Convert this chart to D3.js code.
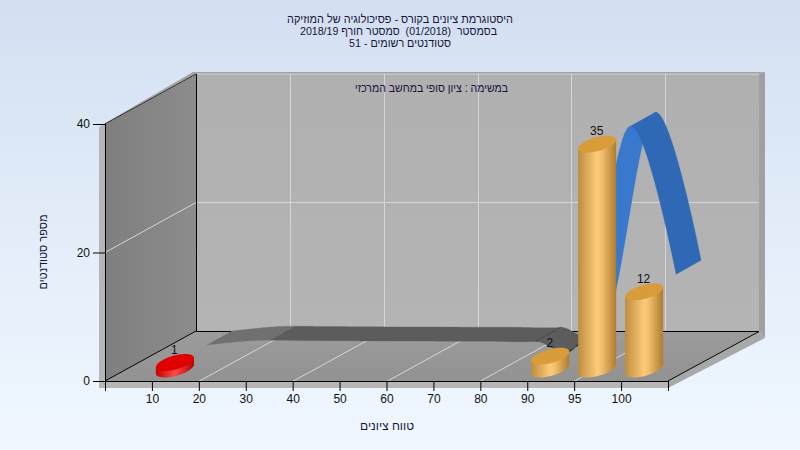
<!DOCTYPE html>
<html lang="he"><head><meta charset="utf-8">
<script src="https://cdnjs.cloudflare.com/ajax/libs/d3/7.8.5/d3.min.js"></script>
<style>html,body{margin:0;padding:0;overflow:hidden}svg{display:block}text{font-family:"Liberation Sans",Arial,sans-serif;white-space:pre}</style>
</head><body><svg id="c" width="800" height="450"></svg>
<script>
const categories = ["10","20","30","40","50","60","70","80","90","95","100"];
const barValues  = [1,0,0,0,0,0,0,0,2,35,12];
const lineValues = [0,0.7,0.7,0.65,0.62,0.6,0.58,0.55,1.5,34,11];
const gridCategories = ["20","40","60","80","95"];
const yTicks = [0,20,40];
const titleLines = ["היסטוגרמת ציונים בקורס - פסיכולוגיה של המוזיקה","בסמסטר  (01/2018)  סמסטר חורף 2018/19","סטודנטים רשומים - 51"];
const subtitle = "במשימה : ציון סופי במחשב המרכזי";
const xTitle = "טווח ציונים";
const yTitle = "מספר סטודנטים";

const svg = d3.select("#c");
const defs = svg.append("defs");
const W=800,H=450;
const L=105,R=668,B=381,T=124,DX=91,DY=-50;
const x = d3.scalePoint().domain(categories).range([L,R]).padding(1);
const y = d3.scaleLinear().domain([0,40]).range([B,T]);
const poly = pts => "M"+pts.map(p=>p.join(",")).join("L")+"Z";
function grad(id,stops,horizontal){
  const g=defs.append("linearGradient").attr("id",id).attr("x1",0).attr("y1",0).attr("x2",horizontal?1:0).attr("y2",horizontal?0:1);
  stops.forEach(s=>g.append("stop").attr("offset",s[0]).attr("stop-color",s[1]));
}
grad("bg",[[0,"#d3dff1"],[0.55,"#e4eefa"],[1,"#f0f7ff"]]);
grad("side",[[0,"#7f7f7f"],[1,"#8c8c8c"]],true);
grad("floor",[[0,"#9c9c9c"],[1,"#929292"]]);
grad("wall",[[0,"#b0b0b0"],[1,"#b4b4b4"]]);
grad("gold",[[0,"#bd8d3f"],[0.5,"#fdcb78"],[0.62,"#f3bf6c"],[1,"#ae7c30"]],true);
grad("red",[[0,"#c40000"],[0.5,"#ff4a4a"],[1,"#b30000"]],true);

svg.append("rect").attr("width",W).attr("height",H).attr("fill","url(#bg)");

// frame
svg.append("path").attr("fill","#b6b6b6").attr("d",poly([[L-6,T+3],[L,T],[L,B],[R,B],[R,B+7],[L-6,B+7]]));
svg.append("path").attr("fill","#a8a8a8").attr("d",poly([[R,B],[R+DX,B+DY],[R+DX+6,B+DY+7],[R,B+7]]));
svg.append("path").attr("fill","#a0a0a0").attr("d",poly([[R+DX,T+DY],[R+DX+6,T+DY-2],[R+DX+6,B+DY+7],[R+DX,B+DY]]));
svg.append("path").attr("fill","#a2a2a2").attr("d",poly([[L,T],[L+DX,T+DY],[R+DX,T+DY],[R+DX+6,T+DY-2],[L+DX-3,T+DY-2],[L-5,T+2]]));

// walls
svg.append("path").attr("fill","url(#wall)").attr("d",poly([[L+DX,T+DY],[R+DX,T+DY],[R+DX,B+DY],[L+DX,B+DY]]));
svg.append("path").attr("fill","url(#side)").attr("d",poly([[L,T],[L+DX,T+DY],[L+DX,B+DY],[L,B]]));
svg.append("path").attr("fill","url(#floor)").attr("d",poly([[L,B],[R,B],[R+DX,B+DY],[L+DX,B+DY]]));

// grid
const grid = svg.append("g").attr("stroke","#d6d6d6").attr("fill","none").attr("stroke-width",1);
gridCategories.forEach(c=>{
  const px=Math.round(x(c))+.5;
  grid.append("path").attr("d",`M${px},${B}L${px+DX},${B+DY}L${px+DX},${T+DY}`);
});
yTicks.slice(1).forEach(v=>{
  grid.append("path").attr("d",`M${L},${y(v)}L${L+DX},${y(v)+DY}L${R+DX},${y(v)+DY}`);
});

// structural lines
const frame=svg.append("g").attr("stroke","#000").attr("fill","none");
frame.append("path").attr("d",`M${L+DX+.5},${T+DY}V${B+DY+.5}H${R+DX}L${R},${B}`);
frame.append("path").attr("d",`M${L},${B}L${L+DX},${B+DY}`);
frame.append("path").attr("d",`M${L},${T}L${L+DX},${T+DY}`).attr("stroke","#222");

// ribbon
const FR={dx:55,dy:-36}, BK={dx:80,dy:-50};
const lineGen=d3.line().x((v,i)=>x(categories[i])).y(v=>y(v)).curve(d3.curveCardinal.tension(0));
const probe=svg.append("path").attr("d",lineGen(lineValues)).attr("fill","none").attr("stroke","none");
const node=probe.node(), total=node.getTotalLength();
const samples=d3.range(0,total,1.2).map(l=>node.getPointAtLength(l));
samples.push(node.getPointAtLength(total));
probe.remove();
function ribbonColor(a,b){
  const rising=b.y<a.y, v=y.invert((a.y+b.y)/2);
  if(v>3) return rising?"#3878cd":"#2f69b5";
  if(a.x<x("30")) return rising?"#707070":"#5c5c5c";
  if(a.x>x("80") && rising) return "#333333";
  return "#5c5c5c";
}
const ribbon=svg.append("g");
let start=0;
for(let i=1;i<samples.length;i++){
  const col=ribbonColor(samples[i-1],samples[i]);
  const nextCol=i+1<samples.length?ribbonColor(samples[i],samples[i+1]):null;
  if(nextCol!==col){
    const seg=samples.slice(start,i+1);
    const pts=seg.map(p=>[p.x+FR.dx,p.y+FR.dy]).concat(seg.slice().reverse().map(p=>[p.x+BK.dx,p.y+BK.dy]));
    ribbon.append("path").attr("d",poly(pts)).attr("fill",col).attr("stroke",col).attr("stroke-width",.3);
    start=i;
  }
}

// cylinders
const BAR={dx:23,dy:-12,a:16,bx:10.3,by:-8.5};
const t=d3.range(0,Math.PI*2+.01,Math.PI/36);
const pt=(cx,cy,a)=>[cx+BAR.a*Math.cos(a)+BAR.bx*Math.sin(a),cy+BAR.by*Math.sin(a)];
const bars=svg.append("g");
categories.forEach((c,i)=>{
  const v=barValues[i]; if(!v) return;
  const cx=x(c)+BAR.dx, y0=y(0)+BAR.dy, y1=y(v)+BAR.dy;
  const low=+c<60;
  const a0=Math.atan2(BAR.bx,BAR.a);
  const lower=d3.range(a0+Math.PI,a0+Math.PI*2+.001,Math.PI/36).map(a=>pt(cx,y0,a));
  const sil=lower.concat([pt(cx,y1,a0),pt(cx,y1,a0+Math.PI)]);
  bars.append("path").attr("d",poly(sil)).attr("fill",low?"url(#red)":"url(#gold)");
  bars.append("path").attr("d",poly(t.map(a=>pt(cx,y1,a)))).attr("fill",low?"#e00000":"#d99c3b");
  bars.append("text").attr("x",cx-.5).attr("y",y1-9).attr("text-anchor","middle").attr("font-size",12).attr("fill","#111").text(v);
});

// axes
const ax=d3.axisBottom(x).tickSize(10).tickPadding(1);
const gx=svg.append("g").attr("transform",`translate(0,${B})`).call(ax);
gx.select(".domain").attr("d",`M${L},0.5H${R}`).attr("stroke","#000");
[L,R].forEach(p=>gx.append("line").attr("x1",p+.5).attr("x2",p+.5).attr("y1",0).attr("y2",10).attr("stroke","#000"));
gx.selectAll("text").attr("font-size",12).attr("font-family",'"Liberation Sans"').attr("fill","#111").attr("dy","0.95em");
const ay=d3.axisLeft(y).tickValues(yTicks).tickSize(12).tickPadding(3);
const gy=svg.append("g").attr("transform",`translate(${L},0)`).call(ay);
gy.select(".domain").attr("d",`M0.5,${T}V${B}`).attr("stroke","#000");
gy.selectAll("text").attr("font-size",12).attr("font-family",'"Liberation Sans"').attr("fill","#111");

// text
const txt=(s,px,py,fs,len)=>svg.append("text").attr("x",px).attr("y",py).attr("text-anchor","middle").attr("direction","rtl").attr("font-size",fs).attr("fill","#15153a").attr("textLength",len).attr("lengthAdjust","spacingAndGlyphs").text(s);
const titleY=[22.5,35,47], titleX=[400,398.5,400], titleLen=[226,197,102];
titleLines.forEach((s,i)=>txt(s,titleX[i],titleY[i],11.5,titleLen[i]));
txt(subtitle,431.5,92,12,153);
txt(xTitle,387,430,12,54);
txt(yTitle,0,0,12,75).attr("transform","translate(47,252) rotate(-90)");
</script></body></html>
